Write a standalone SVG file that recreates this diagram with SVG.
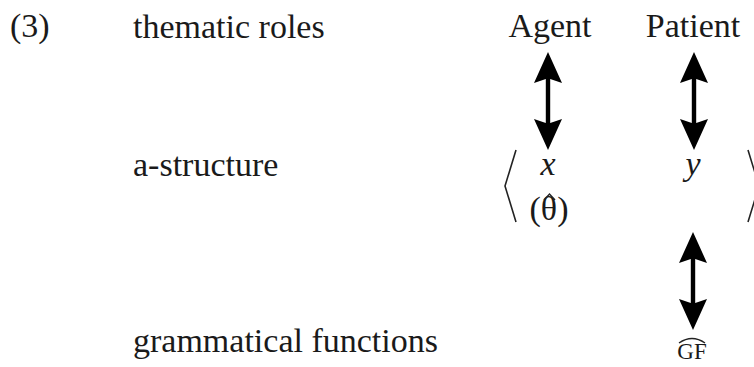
<svg xmlns="http://www.w3.org/2000/svg" width="754" height="367" viewBox="0 0 754 367">
<style>
text{font-family:"Liberation Serif","Times New Roman",serif;fill:#1a1a1a}
.lbl{font-size:34px}
.var{font-size:34px;font-style:italic}
.gf{font-size:23px}
.br{fill:none;stroke:#222;stroke-width:1.6}
.hat{fill:none;stroke:#222;stroke-width:1.4}
.arr{fill:#000}
</style>
<defs>
<path id="dbl" d="M0,0 L14,31 L2.2,27 L2.2,71 L14,67 L0,98 L-14,67 L-2.2,71 L-2.2,27 L-14,31 Z"/>
</defs>
<rect width="754" height="367" fill="#fff"/>
<g id="num"><text class="lbl" x="10" y="37">(3)</text></g>
<g id="row-thematic"><text class="lbl" x="133" y="38">thematic roles</text></g>
<g id="row-astructure"><text class="lbl" x="133" y="176">a-structure</text></g>
<g id="row-gf"><text class="lbl" x="133" y="352">grammatical functions</text></g>
<g id="agent"><text class="lbl" x="550" y="37" text-anchor="middle">Agent</text></g>
<g id="patient"><text class="lbl" x="693" y="37" text-anchor="middle">Patient</text></g>
<g id="astr">
<path class="br" d="M516,150 L505,186 L516,222"/>
<path class="br" d="M748,150 L759,186 L748,222"/>
</g>
<g id="x"><text class="var" x="548" y="175" text-anchor="middle">x</text><text class="lbl" x="549" y="220" text-anchor="middle">(θ)</text><path class="hat" d="M544,200 L549.5,194 L555,200"/></g>
<g id="y"><text class="var" x="693" y="175" text-anchor="middle">y</text></g>
<g id="GF"><text class="gf" x="692" y="359" text-anchor="middle">GF</text><path class="hat" d="M679,343 Q692,334 705,343"/></g>
<g id="connectors" class="arr">
<use href="#dbl" x="548" y="52"/>
<use href="#dbl" x="694" y="52"/>
<use href="#dbl" x="693" y="232"/>
</g>
</svg>
